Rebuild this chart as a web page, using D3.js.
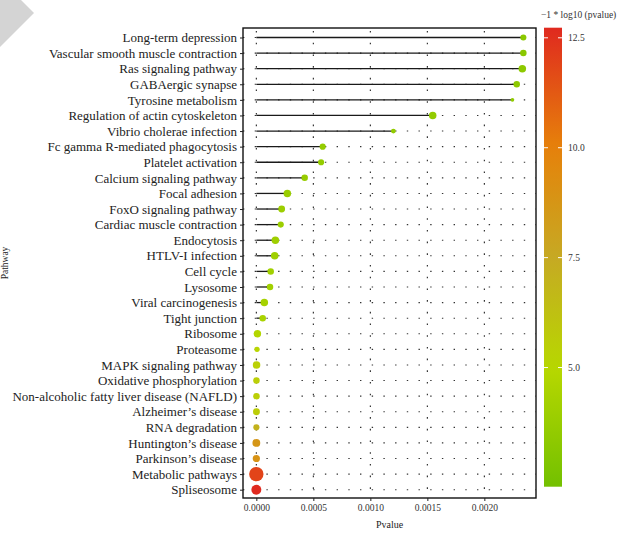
<!DOCTYPE html>
<html>
<head>
<meta charset="utf-8">
<script src="https://cdn.jsdelivr.net/npm/d3@7"></script>
<style>
  html, body { margin: 0; padding: 0; background: #fff; }
  svg { display: block; font-family: "Liberation Serif", "DejaVu Serif", serif; }
</style>
</head>
<body>
<svg id="chart" width="627" height="536"></svg>
<script>
// Enriched KEGG pathways, top to bottom
const pathways = [
  "Long-term depression", "Vascular smooth muscle contraction", "Ras signaling pathway",
  "GABAergic synapse", "Tyrosine metabolism", "Regulation of actin cytoskeleton",
  "Vibrio cholerae infection", "Fc gamma R-mediated phagocytosis", "Platelet activation",
  "Calcium signaling pathway", "Focal adhesion", "FoxO signaling pathway",
  "Cardiac muscle contraction", "Endocytosis", "HTLV-I infection", "Cell cycle",
  "Lysosome", "Viral carcinogenesis", "Tight junction", "Ribosome", "Proteasome",
  "MAPK signaling pathway", "Oxidative phosphorylation",
  "Non-alcoholic fatty liver disease (NAFLD)", "Alzheimer\u2019s disease",
  "RNA degradation", "Huntington\u2019s disease", "Parkinson\u2019s disease",
  "Metabolic pathways", "Spliseosome"
];
// P values (x position of each lollipop)
const pvalues = [
  0.002342, 0.002342, 0.002333, 0.002284, 0.002246, 0.001547, 0.001202, 0.000582,
  0.000568, 0.000424, 0.000272, 0.000222, 0.000214, 0.000167, 0.000161, 0.000126,
  0.000120, 0.000070, 0.000056, 0.000009, 0.000006, 0.000002, 0.000001, 0.000001,
  0.000001, 0.0000005, 0.0000002, 0.0000002, 0.0000000, 0.0000000
];
// Colour value: -1 * log10(pvalue)
const logp = [
  3.2, 3.2, 3.3, 3.3, 3.4, 3.5, 3.5, 3.6, 3.6, 3.7, 3.8, 3.9, 3.9, 4.0, 4.0, 4.1,
  4.1, 4.3, 4.4, 4.8, 5.1, 5.4, 5.5, 5.5, 5.6, 7.0, 8.7, 8.9, 11.9, 12.7
];
// Gene counts (point size)
const counts = [
  8, 9, 12, 9, 3, 12, 5, 8, 8, 9, 12, 10, 8, 12, 12, 9,
  9, 12, 9, 12, 6, 12, 9, 9, 10, 8, 13, 11, 44, 21
];
const legendTicks = [5.0, 7.5, 10.0, 12.5];
const xTicks = [0, 0.0005, 0.0010, 0.0015, 0.0020];

const svg = d3.select("#chart");

// decorative corner chevron
svg.append("polygon")
  .attr("points", "0,0 21,0 34,13 0,47")
  .attr("fill", "#d4d4d4");

const panel = { left: 243, right: 536, top: 28, bottom: 498 };

const x = d3.scaleLinear()
  .domain([-0.000117, 0.002453])
  .range([panel.left, panel.right]);
const y = d3.scalePoint()
  .domain(pathways)
  .range([37.5, 489.7]);
const colorDomain = [2.29, 5.0, 7.5, 10.0, 12.73];
const color = d3.scaleLinear()
  .domain(colorDomain)
  .range(["#73c000", "#b8d800", "#c6a923", "#e6820a", "#e0291f"]);
const size = d3.scaleSqrt().domain([0, 44]).range([0, 7.2]);

const data = pathways.map((p, i) => ({ name: p, p: pvalues[i], v: logp[i], n: counts[i] }));

// dotted grid
const grid = svg.append("g");
grid.selectAll("line.h").data(pathways).join("line")
  .attr("x1", panel.left).attr("x2", panel.right)
  .attr("y1", d => y(d)).attr("y2", d => y(d))
  .attr("stroke", "#333").attr("stroke-width", 1.1)
  .attr("stroke-dasharray", "1.4,10.3");
grid.selectAll("line.v").data(xTicks).join("line")
  .attr("x1", d => x(d)).attr("x2", d => x(d))
  .attr("y1", panel.top).attr("y2", panel.bottom)
  .attr("stroke", "#222").attr("stroke-width", 1.1)
  .attr("stroke-dasharray", "1.6,10.1")
  .attr("stroke-dashoffset", -3);

// lollipop stems
svg.append("g").selectAll("line").data(data).join("line")
  .attr("x1", x(0)).attr("x2", d => x(d.p))
  .attr("y1", d => y(d.name)).attr("y2", d => y(d.name))
  .attr("stroke", "#1a1a1a").attr("stroke-width", 1.3);

// points
svg.append("g").selectAll("circle").data(data).join("circle")
  .attr("cx", d => x(d.p)).attr("cy", d => y(d.name))
  .attr("r", d => size(d.n))
  .attr("fill", d => color(d.v));

// panel border
svg.append("rect")
  .attr("x", panel.left).attr("y", panel.top)
  .attr("width", panel.right - panel.left).attr("height", panel.bottom - panel.top)
  .attr("fill", "none").attr("stroke", "#111").attr("stroke-width", 1.4);

// y axis
const yAxis = svg.append("g")
  .attr("transform", `translate(${panel.left},0)`)
  .call(d3.axisLeft(y).tickSize(3).tickPadding(3));
yAxis.select(".domain").remove();
yAxis.selectAll(".tick line").attr("stroke", "#222");
yAxis.selectAll(".tick text")
  .attr("fill", "#222")
  .style("font-family", "'Liberation Serif', serif")
  .style("font-size", "13px");

// x axis
const xAxis = svg.append("g")
  .attr("transform", `translate(0,${panel.bottom})`)
  .call(d3.axisBottom(x).tickValues(xTicks).tickFormat(d3.format(".4f")).tickSize(3).tickPadding(3));
xAxis.select(".domain").remove();
xAxis.selectAll(".tick line").attr("stroke", "#222");
xAxis.selectAll(".tick text")
  .attr("fill", "#333")
  .style("font-family", "'Liberation Serif', serif")
  .style("font-size", "9.5px");

// axis titles
svg.append("text")
  .attr("x", (panel.left + panel.right) / 2).attr("y", 528)
  .attr("text-anchor", "middle")
  .attr("fill", "#222").style("font-size", "10px")
  .text("Pvalue");
svg.append("text")
  .attr("transform", `translate(8,${(panel.top + panel.bottom) / 2}) rotate(-90)`)
  .attr("text-anchor", "middle")
  .attr("fill", "#222").style("font-size", "9.5px")
  .text("Pathway");

// colour bar legend
const lg = { x: 544, w: 18, top: 27.7, bottom: 486.7 };
const ly = d3.scaleLinear().domain([colorDomain[0], colorDomain[colorDomain.length - 1]])
  .range([lg.bottom, lg.top]);
const defs = svg.append("defs");
const grad = defs.append("linearGradient")
  .attr("id", "cbar").attr("x1", 0).attr("y1", 1).attr("x2", 0).attr("y2", 0);
const stops = d3.range(0, 1.0001, 0.05);
grad.selectAll("stop").data(stops).join("stop")
  .attr("offset", d => d)
  .attr("stop-color", d => color(ly.domain()[0] + d * (ly.domain()[1] - ly.domain()[0])));
svg.append("rect")
  .attr("x", lg.x).attr("y", lg.top)
  .attr("width", lg.w).attr("height", lg.bottom - lg.top)
  .attr("fill", "url(#cbar)");
const lt = svg.append("g");
lt.selectAll("line.l").data(legendTicks).join("line")
  .attr("x1", lg.x).attr("x2", lg.x + 4)
  .attr("y1", d => ly(d)).attr("y2", d => ly(d))
  .attr("stroke", "#fff").attr("stroke-width", 1);
lt.selectAll("line.r").data(legendTicks).join("line")
  .attr("x1", lg.x + lg.w - 4).attr("x2", lg.x + lg.w)
  .attr("y1", d => ly(d)).attr("y2", d => ly(d))
  .attr("stroke", "#fff").attr("stroke-width", 1);
lt.selectAll("text").data(legendTicks).join("text")
  .attr("x", 568).attr("y", d => ly(d)).attr("dy", "0.35em")
  .attr("fill", "#333").style("font-size", "9.5px")
  .text(d => d3.format(".1f")(d));
svg.append("text")
  .attr("x", 541).attr("y", 18)
  .attr("fill", "#333").style("font-size", "9.5px")
  .text("\u22121 * log10 (pvalue)");
</script>
</body>
</html>
